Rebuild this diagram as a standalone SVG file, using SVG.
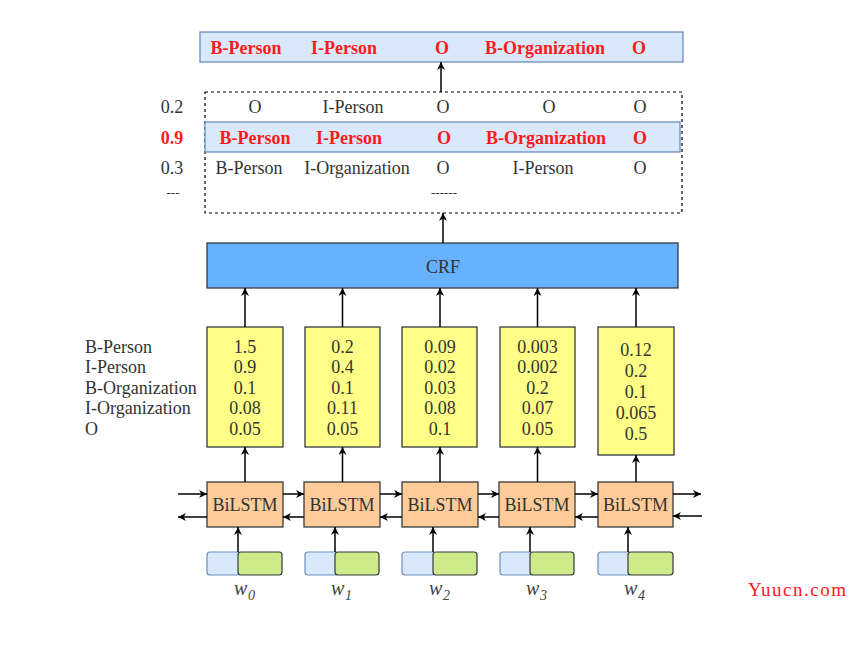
<svg xmlns="http://www.w3.org/2000/svg" width="858" height="645" viewBox="0 0 858 645">
<defs>
<marker id="ah" viewBox="0 0 10 10" refX="10" refY="5" markerWidth="8" markerHeight="8" markerUnits="userSpaceOnUse" orient="auto">
<path d="M0,0 L10,5 L0,10 L3,5 z" fill="#000"/>
</marker>
<style>
text{font-family:"Liberation Serif","Times New Roman",serif;font-size:18px;fill:#333;}
.c{text-anchor:middle;}
.red{fill:#ff1a1a;font-weight:bold;}
.hl{fill:#dae8fc;stroke:#6c8ebf;stroke-width:1.3;}
.yel{fill:#ffff88;stroke:#36393d;stroke-width:1.3;}
.crf{fill:#66b2ff;stroke:#36393d;stroke-width:1.3;}
.lstm{fill:#ffcc99;stroke:#36393d;stroke-width:1.3;}
.eb{fill:#dae8fc;stroke:#6c8ebf;stroke-width:1.2;}
.eg{fill:#cdeb8b;stroke:#36393d;stroke-width:1.2;}
.dash{fill:none;stroke:#000;stroke-width:1.2;stroke-dasharray:3,3;}
.ar{fill:none;stroke:#000;stroke-width:1.5;marker-end:url(#ah);}
.w{font-style:italic;font-size:20px;fill:#444;}
.sub{font-style:italic;font-size:14px;fill:#444;}
</style>
</defs>
<rect width="858" height="645" fill="#fff"/>

<g id="output">
<rect class="hl" x="200" y="32" width="483" height="30"/>
<text class="c red" x="246" y="54">B-Person</text>
<text class="c red" x="344" y="54">I-Person</text>
<text class="c red" x="442" y="54">O</text>
<text class="c red" x="545" y="54">B-Organization</text>
<text class="c red" x="639" y="54">O</text>
</g>

<g id="candidates">
<rect class="dash" x="205" y="92" width="477" height="121"/>
<text class="c" x="172" y="113">0.2</text>
<text class="c" x="255" y="113">O</text>
<text class="c" x="353" y="113">I-Person</text>
<text class="c" x="443" y="113">O</text>
<text class="c" x="549" y="113">O</text>
<text class="c" x="640" y="113">O</text>
<rect class="hl" x="205" y="122" width="475" height="30"/>
<text class="c red" x="172" y="144">0.9</text>
<text class="c red" x="255" y="144">B-Person</text>
<text class="c red" x="349" y="144">I-Person</text>
<text class="c red" x="444" y="144">O</text>
<text class="c red" x="546" y="144">B-Organization</text>
<text class="c red" x="640" y="144">O</text>
<text class="c" x="172" y="174">0.3</text>
<text class="c" x="249" y="174">B-Person</text>
<text class="c" x="357" y="174">I-Organization</text>
<text class="c" x="443" y="174">O</text>
<text class="c" x="543" y="174">I-Person</text>
<text class="c" x="640" y="174">O</text>
<text class="c" x="173" y="197" style="font-size:13px">---</text>
<text class="c" x="444" y="197" style="font-size:13px">------</text>
</g>

<g id="crf">
<rect class="crf" x="207" y="243" width="471" height="45"/>
<text class="c" x="443" y="273">CRF</text>
</g>

<g id="labels">
<text x="85" y="353">B-Person</text>
<text x="85" y="373">I-Person</text>
<text x="85" y="394">B-Organization</text>
<text x="85" y="414">I-Organization</text>
<text x="85" y="435">O</text>
</g>

<g id="scores0">
<rect class="yel" x="207" y="327" width="76" height="120"/>
<text class="c" x="245" y="353">1.5</text>
<text class="c" x="245" y="373">0.9</text>
<text class="c" x="245" y="394">0.1</text>
<text class="c" x="245" y="414">0.08</text>
<text class="c" x="245" y="435">0.05</text>
</g>
<g id="scores1">
<rect class="yel" x="305" y="327" width="75" height="120"/>
<text class="c" x="342.5" y="353">0.2</text>
<text class="c" x="342.5" y="373">0.4</text>
<text class="c" x="342.5" y="394">0.1</text>
<text class="c" x="342.5" y="414">0.11</text>
<text class="c" x="342.5" y="435">0.05</text>
</g>
<g id="scores2">
<rect class="yel" x="402" y="327" width="75" height="120"/>
<text class="c" x="440" y="353">0.09</text>
<text class="c" x="440" y="373">0.02</text>
<text class="c" x="440" y="394">0.03</text>
<text class="c" x="440" y="414">0.08</text>
<text class="c" x="440" y="435">0.1</text>
</g>
<g id="scores3">
<rect class="yel" x="500" y="327" width="75" height="120"/>
<text class="c" x="537.5" y="353">0.003</text>
<text class="c" x="537.5" y="373">0.002</text>
<text class="c" x="537.5" y="394">0.2</text>
<text class="c" x="537.5" y="414">0.07</text>
<text class="c" x="537.5" y="435">0.05</text>
</g>
<g id="scores4">
<rect class="yel" x="598" y="327" width="76" height="128"/>
<text class="c" x="636" y="356">0.12</text>
<text class="c" x="636" y="377">0.2</text>
<text class="c" x="636" y="398">0.1</text>
<text class="c" x="636" y="419">0.065</text>
<text class="c" x="636" y="440">0.5</text>
</g>

<g id="bilstm0"><rect class="lstm" x="207" y="482" width="76" height="45"/><text class="c" x="245" y="511">BiLSTM</text></g>
<g id="bilstm1"><rect class="lstm" x="304" y="482" width="76" height="45"/><text class="c" x="342" y="511">BiLSTM</text></g>
<g id="bilstm2"><rect class="lstm" x="402" y="482" width="76" height="45"/><text class="c" x="440" y="511">BiLSTM</text></g>
<g id="bilstm3"><rect class="lstm" x="499" y="482" width="76" height="45"/><text class="c" x="537" y="511">BiLSTM</text></g>
<g id="bilstm4"><rect class="lstm" x="598" y="482" width="75" height="45"/><text class="c" x="635.5" y="511">BiLSTM</text></g>

<g id="emb0"><rect class="eb" x="207" y="552" width="33" height="23" rx="3"/><rect class="eg" x="238" y="552" width="44" height="23" rx="3"/><text class="w" x="234" y="595">w</text><text class="sub" x="248" y="600">0</text></g>
<g id="emb1"><rect class="eb" x="305" y="552" width="33" height="23" rx="3"/><rect class="eg" x="335" y="552" width="44" height="23" rx="3"/><text class="w" x="331" y="595">w</text><text class="sub" x="345" y="600">1</text></g>
<g id="emb2"><rect class="eb" x="402" y="552" width="33" height="23" rx="3"/><rect class="eg" x="433" y="552" width="44" height="23" rx="3"/><text class="w" x="429" y="595">w</text><text class="sub" x="443" y="600">2</text></g>
<g id="emb3"><rect class="eb" x="500" y="552" width="33" height="23" rx="3"/><rect class="eg" x="530" y="552" width="44" height="23" rx="3"/><text class="w" x="526" y="595">w</text><text class="sub" x="540" y="600">3</text></g>
<g id="emb4"><rect class="eb" x="598" y="552" width="33" height="23" rx="3"/><rect class="eg" x="628" y="552" width="45" height="23" rx="3"/><text class="w" x="624" y="595">w</text><text class="sub" x="638" y="600">4</text></g>

<g id="connectors">
<line class="ar" x1="441" y1="92" x2="441" y2="62"/>
<line class="ar" x1="443" y1="243" x2="443" y2="213"/>
<line class="ar" x1="245" y1="327" x2="245" y2="288"/>
<line class="ar" x1="342.5" y1="327" x2="342.5" y2="288"/>
<line class="ar" x1="440" y1="327" x2="440" y2="288"/>
<line class="ar" x1="537.5" y1="327" x2="537.5" y2="288"/>
<line class="ar" x1="636" y1="327" x2="636" y2="288"/>
<line class="ar" x1="245" y1="482" x2="245" y2="447"/>
<line class="ar" x1="342.5" y1="482" x2="342.5" y2="447"/>
<line class="ar" x1="440" y1="482" x2="440" y2="447"/>
<line class="ar" x1="537.5" y1="482" x2="537.5" y2="447"/>
<line class="ar" x1="636" y1="482" x2="636" y2="455"/>
<line class="ar" x1="238" y1="552" x2="238" y2="527"/>
<line class="ar" x1="335" y1="552" x2="335" y2="527"/>
<line class="ar" x1="433" y1="552" x2="433" y2="527"/>
<line class="ar" x1="530" y1="552" x2="530" y2="527"/>
<line class="ar" x1="628" y1="552" x2="628" y2="527"/>
<line class="ar" x1="178" y1="494" x2="207" y2="494"/>
<line class="ar" x1="207" y1="517" x2="178" y2="517"/>
<line class="ar" x1="283" y1="494" x2="304" y2="494"/>
<line class="ar" x1="304" y1="517" x2="283" y2="517"/>
<line class="ar" x1="380" y1="494" x2="402" y2="494"/>
<line class="ar" x1="402" y1="517" x2="380" y2="517"/>
<line class="ar" x1="478" y1="494" x2="499" y2="494"/>
<line class="ar" x1="499" y1="517" x2="478" y2="517"/>
<line class="ar" x1="575" y1="494" x2="598" y2="494"/>
<line class="ar" x1="598" y1="517" x2="575" y2="517"/>
<line class="ar" x1="673" y1="494" x2="701" y2="494"/>
<line class="ar" x1="702" y1="516" x2="673" y2="516"/>
</g>

<text x="748" y="596" textLength="98" style="fill:#ff1a1a;font-size:19px">Yuucn.com</text>
</svg>
